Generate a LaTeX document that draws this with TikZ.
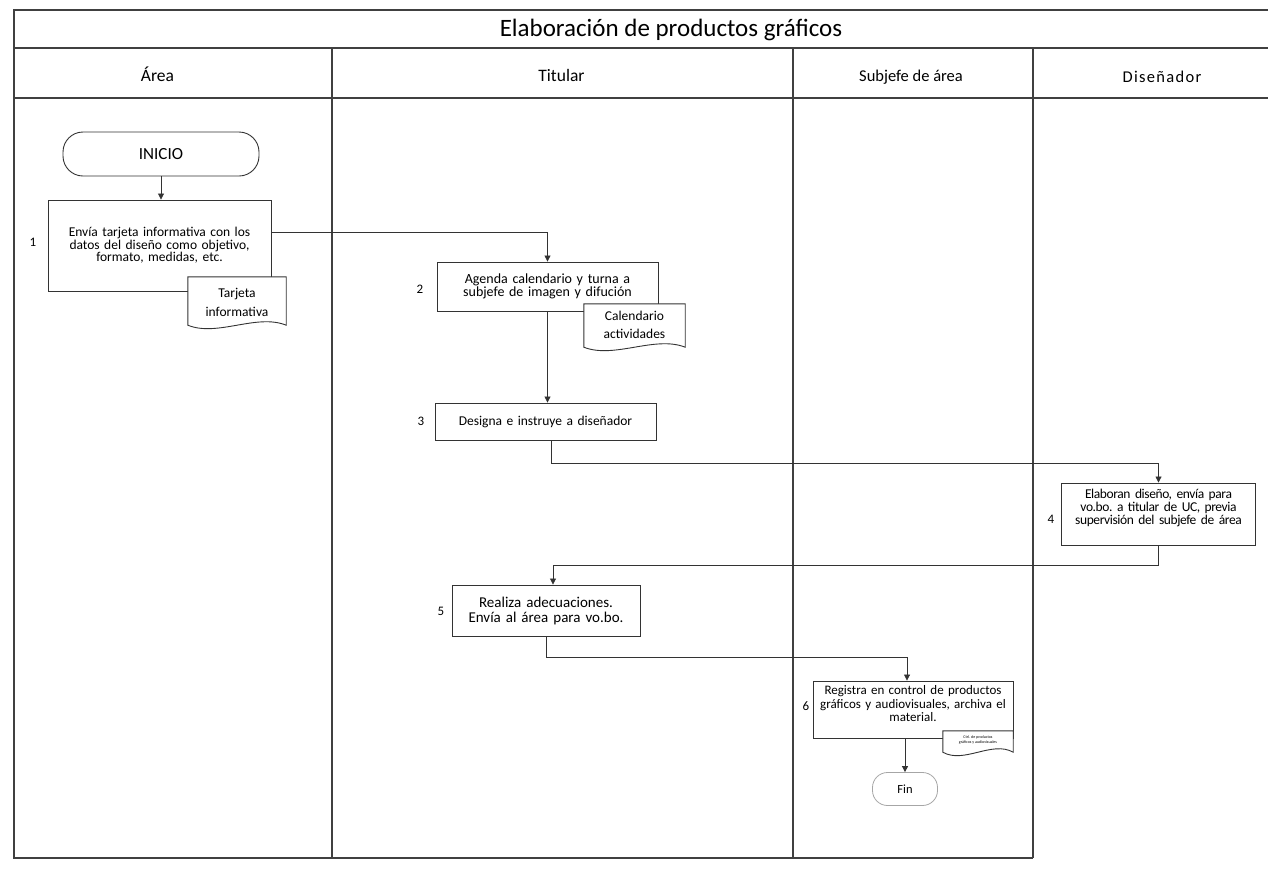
\documentclass[tikz,border=0pt]{standalone}
\usepackage{fontspec}
\setmainfont{Carlito}
\usetikzlibrary{arrows.meta,calc}
\frenchspacing
\tikzset{
  frameline/.style={draw=black!75, line width=1.2pt},
  proc/.style={draw=black!80, line width=0.9pt, fill=white, rectangle, align=center, inner sep=2pt},
  docbox/.style={draw=none, rectangle, align=center, inner sep=1pt},
  docline/.style={draw=black!80, line width=0.9pt, fill=white},
  term/.style={draw=black!80, line width=0.9pt, rectangle, rounded corners=20pt, align=center},
  finbox/.style={draw=black!35, line width=0.8pt, rectangle, rounded corners=15pt, align=center},
  numlbl/.style={font=\fontsize{13}{14}\selectfont, inner sep=0pt},
  lanelbl/.style={font=\fontsize{17.5}{20}\selectfont, inner sep=0pt, anchor=base},
  arr/.style={draw=black!80, line width=0.8pt, -{Triangle[width=6pt,length=6pt]}}
}
\newcommand\wavedocpath[1]{%
  \path[docline] (#1.north west) -- (#1.north east) -- (#1.south east)
    .. controls ($(#1.south west)!0.7!(#1.south east)+(0,-12)$) and ($(#1.south west)!0.3!(#1.south east)+(0,12)$) .. (#1.south west) -- cycle;}
\begin{document}
\begin{tikzpicture}[x=1pt,y=-1pt]
\useasboundingbox (0,0) rectangle (1268,871);
% frame
\draw[frameline] (1268,10) -- (14,10) -- (14,858) -- (1033,858);
\draw[frameline] (14,48) -- (1268,48);
\draw[frameline] (14,98) -- (1268,98);
\draw[frameline] (332,48) -- (332,858);
\draw[frameline] (793,48) -- (793,858);
\draw[frameline] (1033,48) -- (1033,858);
% headers
\node[font=\fontsize{25}{27}\selectfont, inner sep=0pt] (title) at (671,30) {Elaboración de productos gráficos};
\node[lanelbl] (l1) at (157.5,81.5) {Área};
\node[lanelbl] (l2) at (561.5,81.5) {Titular};
\node[lanelbl, font=\fontsize{16.5}{18}\selectfont] (l3) at (911,81.5) {Subjefe de área};
\node[lanelbl, font=\fontsize{16.5}{18}\selectfont\addfontfeatures{LetterSpace=8}] (l4) at (1162,82) {Diseñador};
% nodes
\node[term, minimum width=196pt, minimum height=44pt, font=\fontsize{17}{18}\selectfont] (ini) at (161,154) {INICIO};
\node[proc, minimum width=223pt, minimum height=91pt, text width=215pt, font=\fontsize{13.5}{12.5}\selectfont] (b1) at (159.5,245.5) {Envía tarjeta informativa con los\\datos del diseño como objetivo,\\formato, medidas, etc.};
\node[numlbl] (n1) at (33,242) {1};
\node[docbox, minimum width=98pt, minimum height=48pt] (d1) at (237,301) {};
\wavedocpath{d1}
\node[docbox, font=\fontsize{13.5}{19}\selectfont] (d1t) at (237,302) {Tarjeta\\informativa};

\node[proc, minimum width=221pt, minimum height=49pt, text width=215pt, font=\fontsize{14}{12.5}\selectfont] (b2) at (547.5,286.5) {Agenda calendario y turna a\\subjefe de imagen y difución};
\node[numlbl] (n2) at (420,289) {2};
\node[docbox, minimum width=101pt, minimum height=43pt] (d2) at (634.5,325.5) {};
\wavedocpath{d2}
\node[docbox, font=\fontsize{13.5}{18}\selectfont] (d2t) at (634.5,325) {Calendario\\actividades};

\node[proc, minimum width=221pt, minimum height=37pt, text width=215pt, font=\fontsize{13.5}{14}\selectfont] (b3) at (545.5,421.5) {Designa e instruye a diseñador};
\node[numlbl] (n3) at (421,421) {3};

\node[proc, minimum width=193pt, minimum height=62pt, text width=190pt, font=\fontsize{13.5}{13}\selectfont\addfontfeatures{LetterSpace=-3}] (b4) at (1158.5,514) {Elaboran diseño, envía para\\vo.bo. a titular de UC, previa\\supervisión del subjefe de área\\[2pt]\mbox{}};
\node[numlbl] (n4) at (1051,519) {4};

\node[proc, minimum width=188pt, minimum height=51pt, text width=184pt, font=\fontsize{15}{15}\selectfont] (b5) at (546,610.5) {Realiza adecuaciones.\\Envía al área para vo.bo.};
\node[numlbl] (n5) at (441,611) {5};

\node[proc, minimum width=198pt, minimum height=57pt, text width=196pt, font=\fontsize{13}{13.5}\selectfont] (b6) at (913,709.5) {Registra en control de productos\\gráficos y audiovisuales, archiva el\\material.\\[-2pt]\mbox{}};
\node[numlbl] (n6) at (806,706) {6};
\node[docbox, minimum width=70pt, minimum height=21pt] (d6) at (978,741.5) {};
\wavedocpath{d6}
\node[docbox, font=\fontsize{4}{5}\selectfont] (d6t) at (978,740) {Ctrl. de productos\\gráficos y audiovisuales};

\node[finbox, minimum width=65pt, minimum height=33pt, font=\fontsize{12.5}{13}\selectfont] (fin) at (905,789) {Fin};

% connectors
\draw[arr] (ini.south) -- (b1.north -| ini.south);
\draw[arr] ([yshift=13.5pt]b1.east) -| (b2.north);
\draw[arr] (b2.south) -- (b3.north -| b2.south);
\draw[arr] ([xshift=6pt]b3.south) -- ++(0,23) -| (b4.north);
\draw[arr] (b4.south) -- ++(0,20) -| ([xshift=7pt]b5.north);
\draw[arr] (b5.south) -- ++(0,21) -| ([xshift=-6pt]b6.north);
\draw[arr] ([xshift=-8pt]b6.south) -- (fin.north);
\end{tikzpicture}
\end{document}
